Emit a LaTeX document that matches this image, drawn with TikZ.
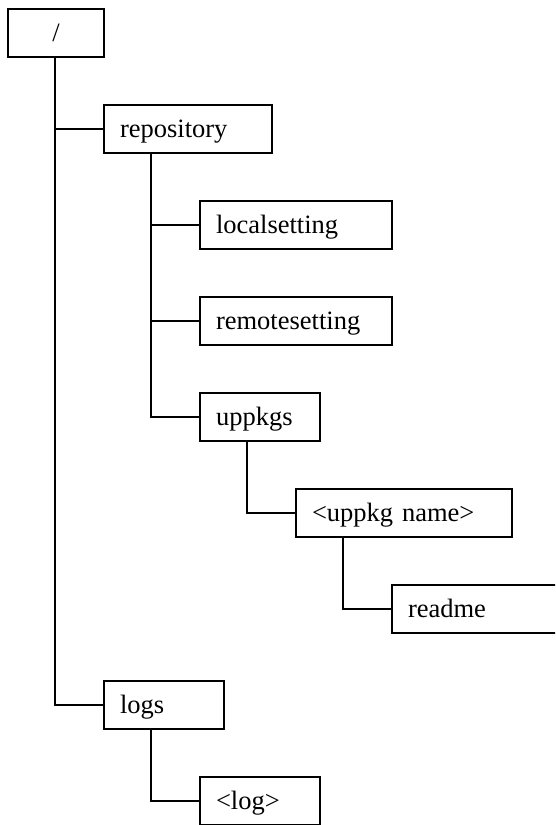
\documentclass[tikz,border=0pt]{standalone}
\usepackage{fontspec}
\setmainfont{Liberation Serif}
\usetikzlibrary{calc}
\begin{document}
\begin{tikzpicture}[x=1pt,y=-1pt,
  dirbox/.style={draw=black, line width=1.6pt, minimum height=48pt, inner xsep=0pt, inner ysep=0pt,
    text height=20pt, text depth=4pt,
    font=\fontsize{26.5}{30}\selectfont, align=left, fill=white},
  link/.style={draw=black, line width=1.6pt}]
\useasboundingbox (0,0) rectangle (555,825);
\clip (0,0) rectangle (555,825);
\node[dirbox, minimum width=96pt, align=center] (root) at (56,33) {/};
\node[dirbox, minimum width=168pt, text width=136pt] (repository) at (188,129) {repository};
\node[dirbox, minimum width=192pt, text width=160pt] (localsetting) at (296,225) {localsetting};
\node[dirbox, minimum width=192pt, text width=160pt] (remotesetting) at (296,321) {remotesetting};
\node[dirbox, minimum width=120pt, text width=88pt] (uppkgs) at (260,417) {uppkgs};
\node[dirbox, minimum width=216pt, text width=184pt] (uppkgname) at (404,513) {<uppkg name>};
\node[dirbox, minimum width=200pt, text width=168pt] (readme) at (492,609) {readme};
\node[dirbox, minimum width=120pt, text width=88pt] (logs) at (164,705) {logs};
\node[dirbox, minimum width=120pt, text width=88pt] (log) at (260,801) {<log>};
% connectors
\coordinate (rootdown) at ($(root.south west)+(48,0)$);
\coordinate (repodown) at ($(repository.south west)+(48,0)$);
\coordinate (uppkgsdown) at ($(uppkgs.south west)+(48,0)$);
\coordinate (uppkgnamedown) at ($(uppkgname.south west)+(48,0)$);
\coordinate (logsdown) at ($(logs.south west)+(48,0)$);
\draw[link] (rootdown) |- (repository.west);
\draw[link] (rootdown) |- (logs.west);
\draw[link] (repodown) |- (localsetting.west);
\draw[link] (repodown) |- (remotesetting.west);
\draw[link] (repodown) |- (uppkgs.west);
\draw[link] (uppkgsdown) |- (uppkgname.west);
\draw[link] (uppkgnamedown) |- (readme.west);
\draw[link] (logsdown) |- (log.west);
\end{tikzpicture}
\end{document}
